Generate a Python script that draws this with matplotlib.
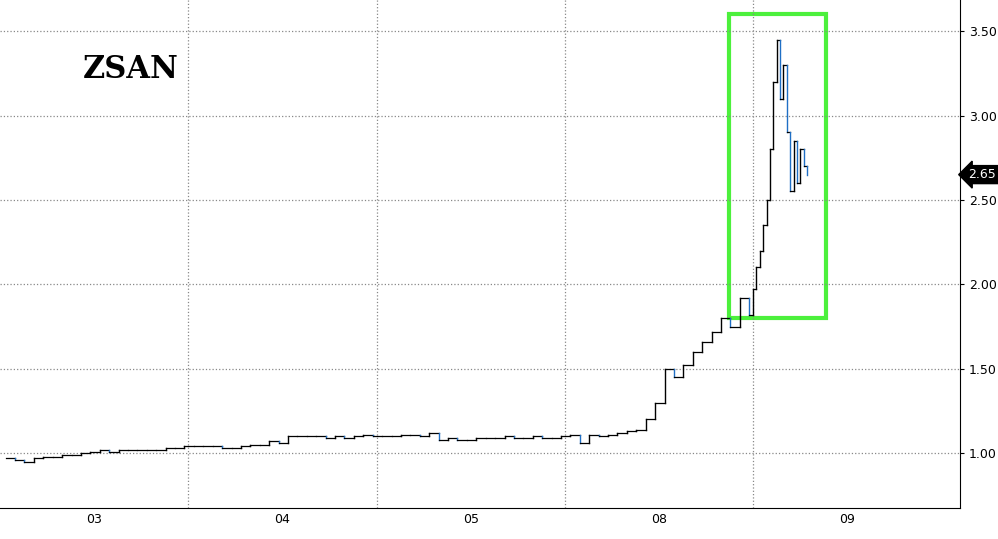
import matplotlib
matplotlib.use("Agg")
import matplotlib.pyplot as plt
import numpy as np
from matplotlib.patches import Rectangle

day_labels = ["03", "04", "05", "08", "09"]
prices_main = [0.97,0.96,0.95,0.97,0.98,0.98,0.99,0.99,1.00,1.01,1.02,1.01,1.02,1.02,1.02,1.02,1.02,1.03,1.03,1.04,
               1.04,1.04,1.04,1.03,1.03,1.04,1.05,1.05,1.07,1.06,1.10,1.10,1.10,1.10,1.09,1.10,1.09,1.10,1.11,1.10,
               1.10,1.10,1.11,1.11,1.10,1.12,1.08,1.09,1.08,1.08,1.09,1.09,1.09,1.10,1.09,1.09,1.10,1.09,1.09,1.10,
               1.11,1.06,1.11,1.10,1.11,1.12,1.13,1.14,1.20,1.30,1.50,1.45,1.52,1.60,1.66,1.72,1.80,1.75,1.92,1.82]
prices_tail = [1.97,2.10,2.20,2.35,2.50,2.80,3.20,3.45,3.10,3.30,2.90,2.55,2.85,2.60,2.80,2.70,2.65]
last_price = 2.65

t_main = 0.03 + 0.05*np.arange(len(prices_main))
t_tail = 4.0 + 0.018*np.arange(len(prices_tail))
t = np.concatenate([t_main, t_tail])
p = np.array(prices_main + prices_tail)

fig = plt.figure(figsize=(9.98, 5.39), dpi=100)
ax = fig.add_axes([0, 0.057, 0.962, 0.943])
ax.set_xlim(0, 5.1)
ax.set_ylim(0.674, 3.684)

for i in range(1, len(p)):
    c = "#1f6fc5" if p[i] < p[i-1] else "black"
    ax.plot([t[i-1], t[i]], [p[i-1], p[i-1]], color="black", lw=0.9)
    ax.plot([t[i], t[i]], [p[i-1], p[i]], color=c, lw=1.0)

ax.yaxis.tick_right()
ax.set_yticks([1.0, 1.5, 2.0, 2.5, 3.0, 3.5])
ax.set_yticklabels(["1.00","1.50","2.00","2.50","3.00","3.50"], fontsize=9)
ax.set_xticks([0.5, 1.5, 2.5, 3.5, 4.5])
ax.set_xticklabels(day_labels, fontsize=9)
ax.set_xticks([1, 2, 3, 4], minor=True)
ax.grid(True, axis="y", linestyle=":", color="#888888", lw=0.9)
ax.grid(True, axis="x", which="minor", linestyle=":", color="#888888", lw=0.9)
ax.tick_params(axis="x", which="both", length=0)
ax.tick_params(axis="y", length=3)
for s in ["top", "left"]:
    ax.spines[s].set_visible(False)
ax.text(2.5, -0.075, "Feb 2021", transform=ax.get_xaxis_transform(), ha="center", va="center", fontsize=9)
ax.text(0.44, 3.27, "ZSAN", fontsize=22, fontweight="bold", family="DejaVu Serif", ha="left", va="center")
ax.add_patch(Rectangle((3.87, 1.80), 0.52, 1.80, fill=False, edgecolor="#4cf03c", lw=3))
ax.annotate(f"{last_price:.2f}", xy=(1.0, last_price), xycoords=("axes fraction", "data"),
            xytext=(6, 0), textcoords="offset points", ha="left", va="center", color="white", fontsize=9,
            bbox=dict(boxstyle="larrow,pad=0.2", fc="black", ec="black"))
fig.savefig("out.png", dpi=100)
